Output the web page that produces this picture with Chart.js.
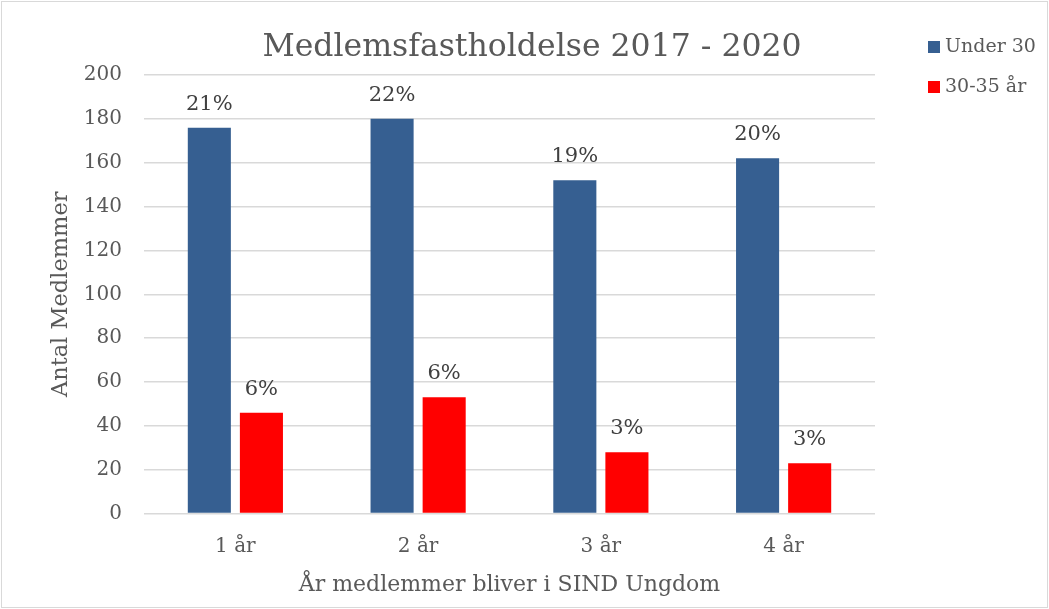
<!DOCTYPE html>
<html><head><meta charset="utf-8">
<script src="https://cdn.jsdelivr.net/npm/chart.js@4"></script>
<style>html,body{margin:0;padding:0;background:#fff}#box{width:1049px;height:609px}</style>
</head><body><div id="box"><canvas id="c" width="1049" height="609"></canvas></div>
<script>
const categories = ["1 år", "2 år", "3 år", "4 år"];
const under30 = [176, 180, 152, 162];
const age30to35 = [46, 53, 28, 23];
const pctUnder30 = ["21%", "22%", "19%", "20%"];
const pct30to35 = ["6%", "6%", "3%", "3%"];
const yTicks = [0, 20, 40, 60, 80, 100, 120, 140, 160, 180, 200];

const FONT = "'DejaVu Serif', 'Liberation Serif', serif";
const TXT = '#595959';

const extras = {
  id: 'extras',
  beforeDraw(chart) {
    const ctx = chart.ctx;
    ctx.save();
    ctx.fillStyle = '#fff';
    ctx.fillRect(0, 0, chart.width, chart.height);
    ctx.strokeStyle = '#d9d9d9';
    ctx.lineWidth = 1;
    ctx.strokeRect(1.5, 1.5, chart.width - 3, chart.height - 3);
    ctx.restore();
  },
  afterDatasetsDraw(chart) {
    const ctx = chart.ctx;
    ctx.save();
    ctx.font = "21px " + FONT;
    ctx.fillStyle = '#404040';
    ctx.textAlign = 'center';
    ctx.textBaseline = 'bottom';
    const labels = [pctUnder30, pct30to35];
    chart.data.datasets.forEach((ds, di) => {
      chart.getDatasetMeta(di).data.forEach((bar, i) => {
        ctx.fillText(labels[di][i], bar.x, bar.y - 13);
      });
    });
    // title
    ctx.font = "31.5px " + FONT;
    ctx.fillStyle = TXT;
    ctx.textBaseline = 'middle';
    ctx.fillText("Medlemsfastholdelse 2017 - 2020", 532, 48);
    // legend
    ctx.font = "19px " + FONT;
    ctx.textAlign = 'left';
    chart.data.datasets.forEach((ds, di) => {
      const y = 47 + di * 40;
      ctx.fillStyle = ds.backgroundColor;
      ctx.fillRect(928, y - 6, 12, 12);
      ctx.fillStyle = TXT;
      ctx.fillText(ds.label, 945, y);
    });
    ctx.restore();
  }
};

new Chart(document.getElementById('c'), {
  type: 'bar',
  data: {
    labels: categories,
    datasets: [
      { label: 'Under 30', data: under30, backgroundColor: '#365f91', categoryPercentage: 0.57, barPercentage: 0.827 },
      { label: '30-35 år', data: age30to35, backgroundColor: '#ff0000', categoryPercentage: 0.57, barPercentage: 0.827 }
    ]
  },
  options: {
    responsive: false,
    animation: false,
    layout: { padding: { top: 75, right: 174, bottom: 11, left: 48 } },
    plugins: { legend: { display: false }, title: { display: false }, tooltip: { enabled: false } },
    scales: {
      x: {
        grid: { display: false },
        border: { display: false },
        ticks: { color: TXT, font: { family: FONT, size: 20 }, padding: 13 },
        title: { display: true, text: 'År medlemmer bliver i SIND Ungdom', color: TXT, font: { family: FONT, size: 22 }, padding: { top: 0, bottom: 0 } }
      },
      y: {
        min: 0, max: 200,
        afterBuildTicks(scale) { scale.ticks = yTicks.map(v => ({ value: v })); },
        afterFit(scale) { scale.width = 96; },
        grid: { color: '#d9d9d9', drawTicks: false, lineWidth: 1.5 },
        border: { display: false },
        ticks: { color: TXT, font: { family: FONT, size: 20 }, padding: 22 },
        title: { display: true, text: 'Antal Medlemmer', color: TXT, font: { family: FONT, size: 22.5 }, padding: { top: 0, bottom: 0 } }
      }
    }
  },
  plugins: [extras]
});
</script></body></html>
